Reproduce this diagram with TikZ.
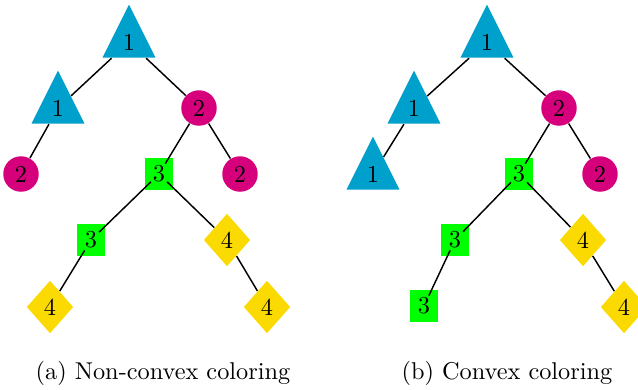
\documentclass[tikz,border=0pt]{standalone}
\usepackage{tikz}
\usetikzlibrary{shapes.geometric}

\definecolor{triblue}{RGB}{0,160,204}
\definecolor{dotred}{RGB}{214,0,124}
\definecolor{boxgreen}{RGB}{0,255,0}
\definecolor{diayellow}{RGB}{250,218,0}

\begin{document}
\begin{tikzpicture}[x=0.4115pt,y=-0.4115pt,
  tri/.style={isosceles triangle,shape border rotate=90,isosceles triangle apex angle=53.13,
    isosceles triangle stretches,minimum width=21.8pt,minimum height=21.8pt,inner sep=0pt,fill=triblue},
  dot/.style={circle,fill=dotred,inner sep=0pt,minimum size=14.6pt},
  box/.style={rectangle,fill=boxgreen,outer sep=-2.5pt},
  dia/.style={diamond,fill=diayellow,inner sep=0pt,minimum width=19.2pt,minimum height=21.7pt}]
\useasboundingbox (0,0) rectangle (638,389);

% (a) non-convex
\path (129,42) node[tri](a1){1} (58,108) node[tri](a2){1} (199,108) node[dot](a3){2}
  (21,174) node[dot](a4){2} (159,174) node[box](a5){3} (240,174) node[dot](a6){2}
  (91,240) node[box](a7){3} (227,240) node[dia](a8){4}
  (50,307) node[dia](a9){4} (267,307) node[dia](a10){4};
\draw[semithick] (a1) -- (a2) (a1) -- (a3) (a2) -- (a4) (a3) -- (a5) (a3) -- (a6)
  (a5) -- (a7) (a5) -- (a8) (a7) -- (a9) (a8) -- (a10);
\node (capa) at (163,373) {(a) Non-convex coloring};

% (b) convex
\path (487,42) node[tri](b1){1} (414,108) node[tri](b2){1} (559,108) node[dot](b3){2}
  (373,174) node[tri](b4){1} (519,174) node[box](b5){3} (600,174) node[dot](b6){2}
  (455,240) node[box](b7){3} (583,240) node[dia](b8){4}
  (424,306) node[box](b9){3} (624,307) node[dia](b10){4};
\draw[semithick] (b1) -- (b2) (b1) -- (b3) (b2) -- (b4) (b3) -- (b5) (b3) -- (b6)
  (b5) -- (b7) (b5) -- (b8) (b7) -- (b9) (b8) -- (b10);
\node (capb) at (507,373) {(b) Convex coloring};
\end{tikzpicture}
\end{document}
